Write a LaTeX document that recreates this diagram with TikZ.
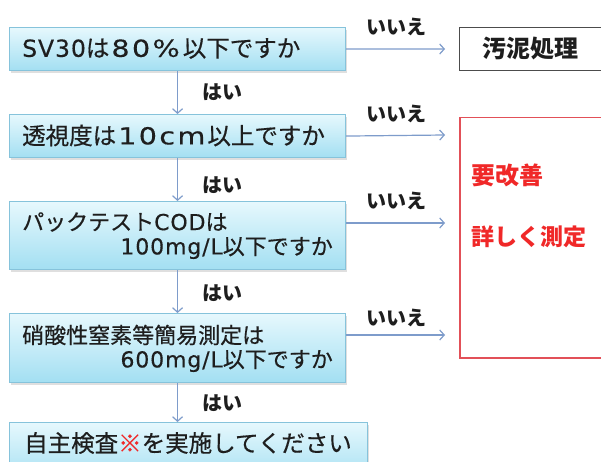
\documentclass[tikz,border=0pt]{standalone}
\usepackage{fontspec}
\setmainfont{Noto Sans CJK JP}
\newfontfamily\med[FakeBold=0.5]{Noto Sans CJK JP}
\newfontfamily\lat[FakeBold=0.3,LetterSpace=4]{DejaVu Sans}
\newfontfamily\wlat[FakeBold=0.3,FakeStretch=1.22,LetterSpace=10]{DejaVu Sans}
\usetikzlibrary{arrows.meta,shadows}
\definecolor{boxtop}{HTML}{E6F8FD}
\definecolor{boxbot}{HTML}{A3DFF2}
\definecolor{boxedge}{HTML}{86C3DB}
\definecolor{arrowc}{HTML}{7E9CCB}
\definecolor{alertedge}{RGB}{226,80,88}
\definecolor{redtxt}{HTML}{F02828}
\definecolor{txt}{HTML}{1E1E1E}
\tikzset{
  qbox/.style={draw=boxedge, line width=1.1pt, top color=boxtop, bottom color=boxbot,
    inner sep=0pt, anchor=north west, text=txt,
    drop shadow={opacity=0.25, shadow xshift=1.5pt, shadow yshift=-2pt}},
  bigtxt/.style={font=\med\fontsize{23.5}{28}\selectfont, inner sep=0pt, text=txt},
  midtxt/.style={font=\med\fontsize{22}{26}\selectfont, inner sep=0pt, text=txt},
  lab/.style={font=\fontsize{20}{24}\selectfont\bfseries, inner sep=0pt, text=txt},
  flow/.style={draw=arrowc, line width=1.2pt, -{Straight Barb[length=4.5pt,width=10pt]}},
}
\begin{document}
\begin{tikzpicture}[x=1pt,y=-1pt]
\useasboundingbox (0,0) rectangle (601,462);
\clip (0,0) rectangle (601,462);
\fill[white] (0,0) rectangle (601,462);
% question boxes
\node[qbox, minimum width=336pt, minimum height=43pt] (b1) at (9,27) {};
\node[bigtxt, anchor=west] (b1t) at (22,48.5) {{\lat SV30}は\hspace{2pt}{\wlat 80\%}\hspace{3pt}以下ですか};
\node[qbox, minimum width=336pt, minimum height=43pt] (b2) at (9,114) {};
\node[bigtxt, anchor=west] (b2t) at (22,135.5) {透視度は\hspace{2pt}{\wlat 10cm}\hspace{2pt}以上ですか};
\node[qbox, minimum width=336pt, minimum height=68pt] (b3) at (9,201) {};
\node[midtxt, anchor=west] (b3a) at (22,222) {パックテスト{\lat COD}は};
\node[midtxt, anchor=east] (b3b) at (333,248) {{\lat 100mg/L}以下ですか};
\node[qbox, minimum width=336pt, minimum height=69pt] (b4) at (9,313) {};
\node[midtxt, anchor=west] (b4a) at (22,335) {硝酸性窒素等簡易測定は};
\node[midtxt, anchor=east] (b4b) at (333,361) {{\lat 600mg/L}以下ですか};
\node[qbox, minimum width=358pt, minimum height=60pt] (b5) at (9,422) {};
\node[bigtxt] (b5t) at (188,443) {自主検査\textcolor{redtxt}{※}を実施してください};
% right boxes
\node[draw=black!70, line width=1.2pt, fill=white, anchor=north west, minimum width=160pt, minimum height=43pt, inner sep=0pt] (r1) at (459,27) {};
\node[font=\fontsize{24}{28}\selectfont\bfseries, text=txt, inner sep=0pt, anchor=west] (r1t) at (482,48.5) {汚泥処理};
\node[draw=alertedge, line width=1.5pt, fill=white, anchor=north west, minimum width=160pt, minimum height=240pt, inner sep=0pt] (r2) at (459,117) {};
\node[font=\fontsize{24}{28}\selectfont\bfseries, text=redtxt, inner sep=0pt, anchor=west] (r2a) at (471,175) {要改善};
\node[font=\fontsize{23}{28}\selectfont\bfseries, text=redtxt, inner sep=0pt, anchor=west] (r2b) at (471,237) {詳しく測定};
% arrow end points
\coordinate (e1) at (445,49);
\coordinate (e2) at (445,135);
\coordinate (e3) at (445,223);
\coordinate (e4) at (445,335);
% horizontal arrows
\draw[flow] (b1.east) -- (e1);
\draw[flow] (b2.east) -- (e2);
\draw[flow] (b3.east |- e3) -- (e3);
\draw[flow] (b4.east |- e4) -- (e4);
\node[lab] (n1) at (396,27) {いいえ};
\node[lab] (n2) at (396,114) {いいえ};
\node[lab] (n3) at (396,201) {いいえ};
\node[lab] (n4) at (396,318) {いいえ};
% vertical arrows
\draw[flow] (b1.south) -- (b2.north);
\draw[flow] (b2.south) -- (b3.north);
\draw[flow] (b3.south) -- (b4.north);
\draw[flow] (b4.south) -- (b4.south |- b5.north);
\node[lab] (y1) at (222,92) {はい};
\node[lab] (y2) at (222,185) {はい};
\node[lab] (y3) at (222,293) {はい};
\node[lab] (y4) at (222,403) {はい};
\end{tikzpicture}
\end{document}
